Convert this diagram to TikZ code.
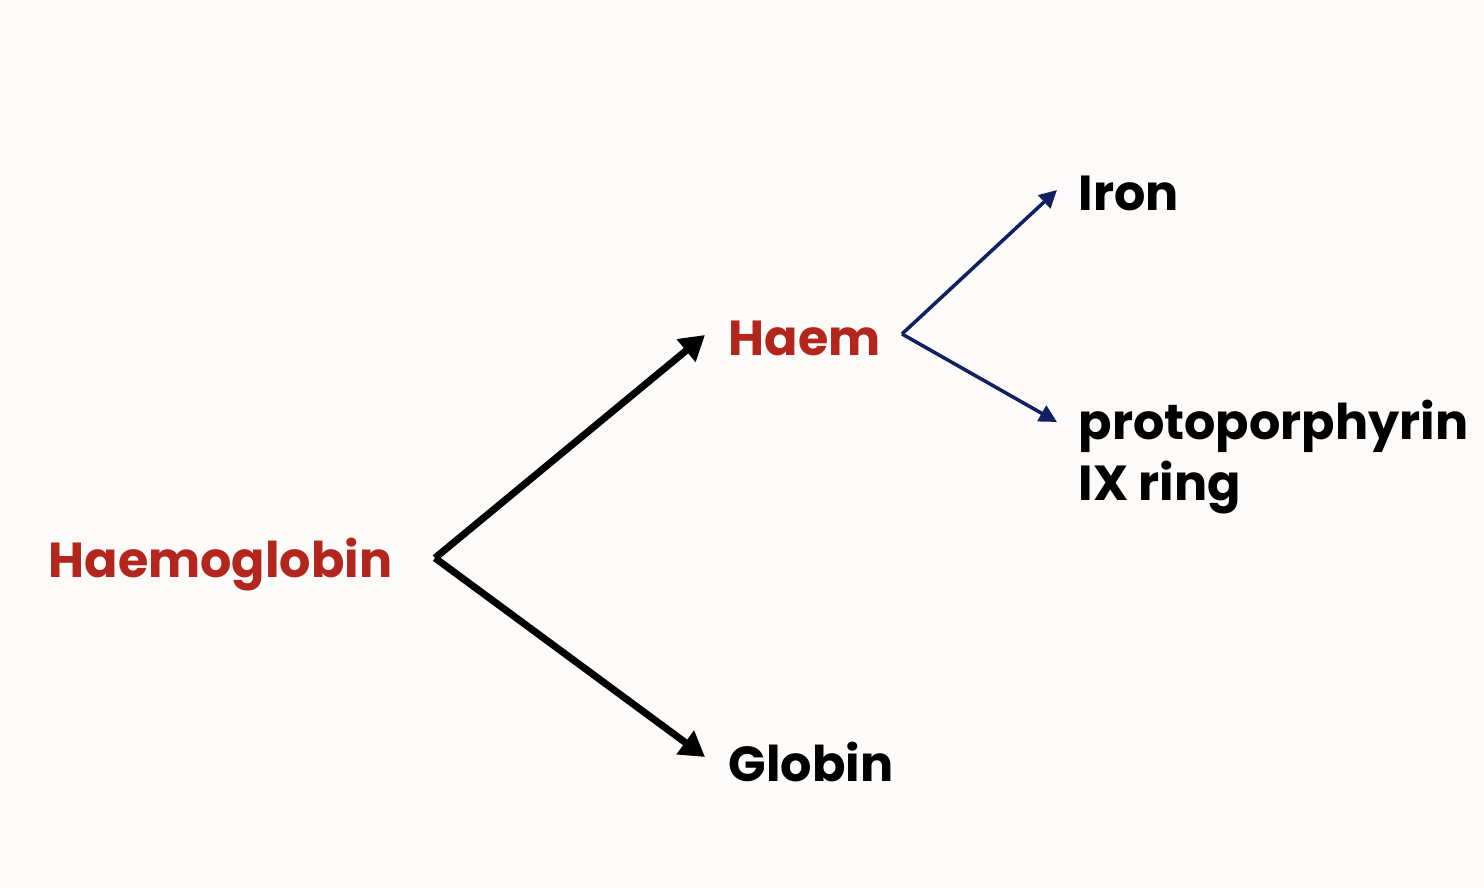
\documentclass[tikz,border=0pt]{standalone}
\usepackage{fontspec}
\setmainfont{Poppins}
\usetikzlibrary{arrows.meta}
\definecolor{bg}{HTML}{FCFBF9}
\definecolor{hred}{HTML}{B3261E}
\definecolor{navy}{HTML}{102060}
\begin{document}
\begin{tikzpicture}[x=0.01cm,y=-0.01cm,
  lbl/.style={anchor=west,inner sep=0pt,font=\fontsize{14}{17.5}\selectfont\bfseries,text=black},
  redlbl/.style={lbl,text=hred},
  bigarrow/.style={line width=2pt,-{Triangle[length=7pt,width=8pt]}},
  smallarrow/.style={navy,line width=1pt,-{Triangle[length=5pt,width=5pt]}}]
\fill[bg] (0,0) rectangle (1484,888);
\useasboundingbox (0,0) rectangle (1484,888);
\node[redlbl] (hb) at (48,565) {Haemoglobin};
\node[redlbl] (haem) at (728,338) {Haem};
\node[lbl] (glob) at (728,762) {Globin};
\node[lbl] (iron) at (1078,193) {Iron};
\node[lbl,align=left] (ppix) at (1078,457) {protoporphyrin\\IX ring};
\coordinate (b1) at (435,558);
\coordinate (b2) at (902,334);
\coordinate (a1) at (705,335);
\coordinate (a2) at (705,757);
\coordinate (a3) at (1057,190);
\coordinate (a4) at (1057,422);
\draw[bigarrow] (b1) -- (a1);
\draw[bigarrow] (b1) -- (a2);
\draw[smallarrow] (b2) -- (a3);
\draw[smallarrow] (b2) -- (a4);
\end{tikzpicture}
\end{document}
